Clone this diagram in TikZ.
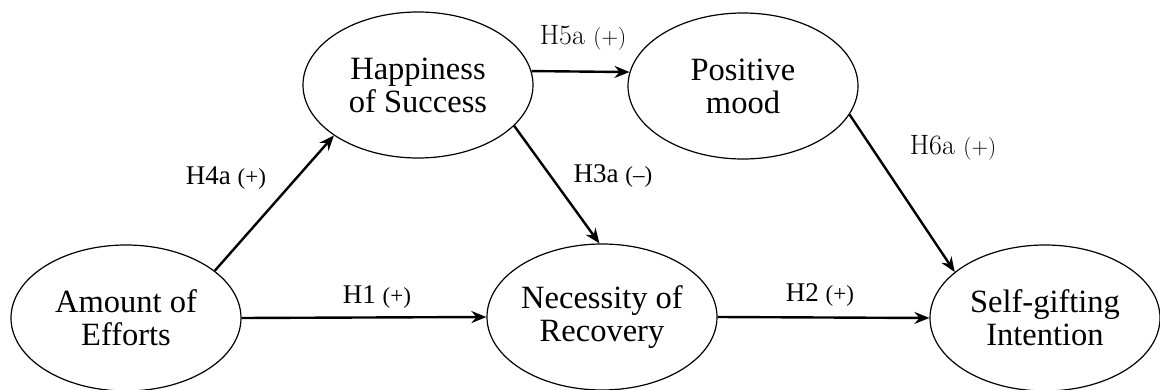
\documentclass[tikz,border=0pt]{standalone}
\usepackage{fontspec}
\newfontfamily\tnr[Ligatures=TeX]{Liberation Serif}
\usetikzlibrary{shapes.geometric,arrows.meta}
\tikzset{
  ell/.style={ellipse, draw, line width=1.2pt, minimum width=230pt, minimum height=146pt,
    inner sep=0pt, align=center, font=\tnr\fontsize{32.5}{33}\selectfont},
  conn/.style={-{Stealth[length=15pt,width=12pt,inset=5pt]}, line width=2.4pt},
  lbl/.style={inner sep=0pt, font=\tnr\fontsize{27}{28}\selectfont},
  lbllm/.style={inner sep=0pt, font=\rmfamily\fontsize{28}{30}\selectfont},
}
\newcommand{\smt}[1]{{\fontsize{23}{25}\selectfont #1}}
\begin{document}
\begin{tikzpicture}[x=1pt,y=-1pt]
\useasboundingbox (0,0) rectangle (1160,390);
\node[ell] (amount) at (126,318) {Amount of\\Efforts};
\node[ell] (happy) at (418,85) {Happiness\\of Success};
\node[ell] (pos) at (743,86) {Positive\\mood};
\node[ell] (nec) at (602,317) {Necessity of\\Recovery};
\node[ell] (self) at (1045,318) {Self-gifting\\Intention};

\draw[conn] (amount.28) -- (happy.211);
\draw[conn] (amount.east) -- (nec.west);
\draw[conn] (happy.7) -- (pos.173);
\draw[conn] (happy.-23) -- (nec.92);
\draw[conn] (nec.east) -- (self.west);
\draw[conn] (pos.-15) -- (self.153);

\node[lbl] (l4) at (226,178) {H4a \smt{(+)}};
\node[lbllm] (l5) at (583,38) {H5a \smt{(+)}};
\node[lbl] (l3) at (613,176) {H3a \smt{(–)}};
\node[lbllm] (l6) at (953,148) {H6a \smt{(+)}};
\node[lbl] (l1) at (377,297) {H1 \smt{(+)}};
\node[lbl] (l2) at (820,295) {H2 \smt{(+)}};
\end{tikzpicture}
\end{document}
